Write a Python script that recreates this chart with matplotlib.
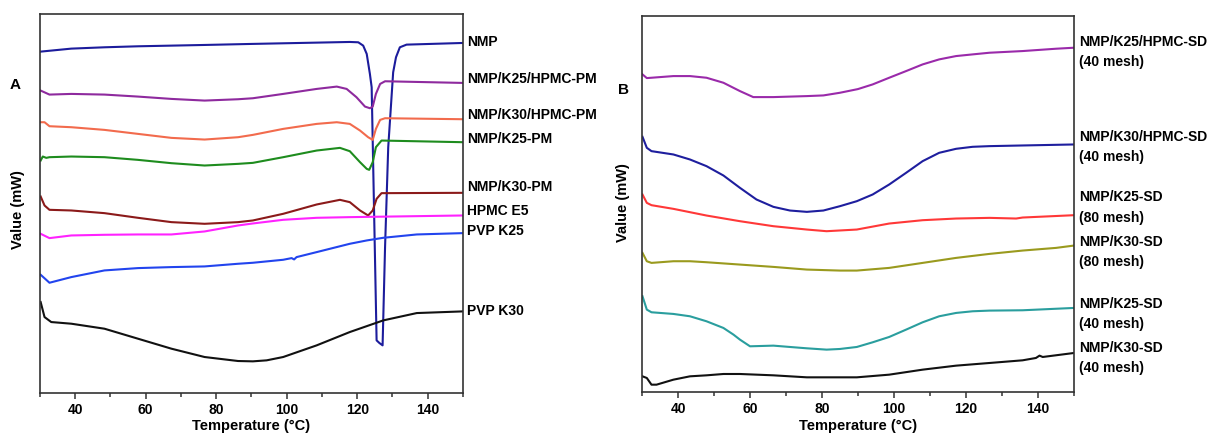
"""
DSC thermograms: (A) NMP, polymers and physical mixtures, (B) solid dispersions.
"""

import numpy as np
import matplotlib
matplotlib.use('Agg')
import matplotlib.pyplot as plt
from matplotlib.ticker import MultipleLocator

plt.rcParams['font.family'] = ['Liberation Sans', 'DejaVu Sans']
plt.rcParams['font.weight'] = 'bold'

# ---- panel A (heat flow, arbitrary mW units, curves stacked) ----
A_NMP_T = [30.2, 38.9, 48.3, 57.8, 67.3, 76.7, 89.6, 99.0, 108.5, 117.9, 120.3, 121.7, 122.7,
           123.6, 124.1, 125.5, 126.3, 127.2, 127.9, 128.8, 130.2, 131.0, 132.1, 134.0, 150]
A_NMP_V = [10.45, 10.54, 10.58, 10.61, 10.63, 10.65, 10.68, 10.70, 10.72, 10.74, 10.73, 10.63, 10.38,
           9.78, 9.38, 1.78, 1.70, 1.63, 4.58, 7.58, 9.83, 10.28, 10.58, 10.66, 10.71]

A_K25HP_T = [30.2, 32.7, 38.9, 48.3, 57.8, 67.3, 76.7, 86.2, 90.4, 99.0, 108.5, 114.2, 117.0,
             119.8, 122.2, 123.6, 124.4, 125.3, 126.5, 127.9, 150]
A_K25HP_V = [9.28, 9.16, 9.18, 9.16, 9.10, 9.03, 8.98, 9.02, 9.05, 9.18, 9.33, 9.40, 9.33,
             9.08, 8.80, 8.75, 8.80, 9.18, 9.48, 9.56, 9.51]

A_K30HP_T = [30.2, 31.3, 32.7, 38.9, 48.3, 57.8, 67.3, 76.7, 86.2, 90.4, 99.0, 108.5, 114.2,
             117.9, 120.8, 123.1, 124.4, 125.3, 126.5, 127.9, 150]
A_K30HP_V = [8.33, 8.33, 8.21, 8.18, 8.10, 7.98, 7.86, 7.81, 7.88, 7.95, 8.13, 8.28, 8.33,
             8.28, 8.08, 7.88, 7.80, 8.13, 8.40, 8.45, 8.42]

A_K25PM_T = [30.2, 30.8, 31.8, 32.7, 38.9, 48.3, 57.8, 67.3, 76.7, 86.2, 90.4, 99.0, 108.5,
             115.1, 117.9, 120.8, 122.7, 123.4, 124.4, 125.3, 126.9, 150]
A_K25PM_V = [7.18, 7.30, 7.26, 7.28, 7.30, 7.28, 7.20, 7.10, 7.03, 7.08, 7.11, 7.28, 7.48,
             7.56, 7.46, 7.13, 6.93, 6.90, 7.13, 7.58, 7.78, 7.73]

A_K30PM_T = [30.2, 31.3, 32.7, 38.9, 48.3, 57.8, 67.3, 76.7, 86.2, 90.4, 99.0, 108.5, 115.1,
             117.9, 120.8, 123.1, 124.4, 125.5, 126.9, 150]
A_K30PM_V = [6.10, 5.83, 5.70, 5.68, 5.60, 5.46, 5.33, 5.28, 5.33, 5.38, 5.58, 5.86, 6.00,
             5.93, 5.68, 5.53, 5.68, 6.03, 6.20, 6.21]

A_HPMC_T = [30.2, 32.7, 38.9, 48.3, 57.8, 67.3, 76.7, 86.2, 90.4, 99.0, 108.5, 117.9, 150]
A_HPMC_V = [4.98, 4.85, 4.93, 4.95, 4.96, 4.96, 5.05, 5.23, 5.29, 5.40, 5.46, 5.48, 5.53]

A_PVP25_T = [30.2, 32.7, 38.9, 48.3, 57.8, 67.3, 76.7, 86.2, 90.4, 99.0, 101.4, 102.1, 102.8,
             108.5, 117.9, 122.7, 127.4, 136.9, 150]
A_PVP25_V = [3.75, 3.51, 3.68, 3.88, 3.95, 3.98, 4.00, 4.08, 4.11, 4.20, 4.25, 4.21, 4.28,
             4.43, 4.68, 4.78, 4.86, 4.96, 5.00]

A_PVP30_T = [30.2, 31.3, 33.2, 38.9, 48.3, 57.8, 67.3, 76.7, 86.2, 90.4, 94.3, 99.0, 108.5,
             117.9, 127.4, 136.9, 150]
A_PVP30_V = [2.93, 2.48, 2.33, 2.28, 2.13, 1.83, 1.53, 1.28, 1.16, 1.15, 1.18, 1.28, 1.63,
             2.03, 2.38, 2.60, 2.65]

A_LABELS = ['NMP', 'NMP/K25/HPMC-PM', 'NMP/K30/HPMC-PM', 'NMP/K25-PM',
            'NMP/K30-PM', 'HPMC E5', 'PVP K25', 'PVP K30']
A_LABEL_Y = [10.75, 9.62, 8.55, 7.82, 6.38, 5.65, 5.05, 2.65]
A_COLORS = ['#1c1c9c', '#8e2a9e', '#f26b4d', '#1e8c1e', '#8b1a1a', '#ff22ff', '#2244ee', '#111111']

# ---- panel B ----
B_K25HP_T = [30.0, 31.2, 32.5, 38.6, 43.2, 47.8, 52.5, 57.1, 60.8, 66.4, 75.7, 80.3, 84.9, 89.9,
             94.0, 98.6, 103.3, 107.9, 112.5, 117.2, 121.8, 126.5, 135.7, 145.0, 150]
B_K25HP_V = [9.77, 9.66, 9.67, 9.72, 9.72, 9.67, 9.52, 9.27, 9.09, 9.09, 9.12, 9.14, 9.22, 9.33,
             9.47, 9.67, 9.87, 10.07, 10.22, 10.32, 10.37, 10.42, 10.47, 10.54, 10.57]

B_K30HP_T = [30.0, 31.2, 32.5, 38.6, 43.2, 47.8, 52.5, 57.1, 61.7, 66.4, 71.0, 75.7, 80.3, 84.9,
             89.6, 94.0, 98.6, 103.3, 107.9, 112.5, 117.2, 121.8, 126.5, 135.7, 150]
B_K30HP_V = [7.90, 7.57, 7.47, 7.37, 7.22, 7.02, 6.74, 6.37, 6.02, 5.80, 5.69, 5.65, 5.69, 5.82,
             5.97, 6.17, 6.47, 6.82, 7.17, 7.42, 7.54, 7.60, 7.62, 7.64, 7.67]

B_K25_80_T = [30.0, 31.2, 32.5, 38.6, 47.8, 57.1, 66.4, 75.7, 81.2, 89.6, 98.6, 107.9, 117.2,
              126.5, 133.9, 135.7, 150]
B_K25_80_V = [6.17, 5.92, 5.85, 5.74, 5.54, 5.37, 5.22, 5.12, 5.07, 5.12, 5.30, 5.40, 5.45,
              5.47, 5.45, 5.48, 5.55]

B_K30_80_T = [30.0, 31.2, 32.5, 38.6, 43.2, 47.8, 57.1, 66.4, 75.7, 84.9, 89.6, 98.6, 107.9,
              117.2, 126.5, 135.7, 145.0, 150]
B_K30_80_V = [4.42, 4.17, 4.12, 4.17, 4.17, 4.14, 4.07, 4.00, 3.92, 3.89, 3.89, 3.97, 4.12,
              4.27, 4.39, 4.49, 4.57, 4.64]

B_K25_40_T = [30.0, 31.2, 32.5, 38.6, 43.2, 47.8, 52.5, 55.3, 57.1, 59.9, 66.4, 71.0, 75.7, 81.2,
              84.9, 89.6, 94.0, 98.6, 103.3, 107.9, 112.5, 117.2, 121.8, 126.5, 135.7, 150]
B_K25_40_V = [3.12, 2.72, 2.64, 2.59, 2.52, 2.37, 2.17, 1.97, 1.82, 1.62, 1.64, 1.60, 1.56, 1.52,
              1.54, 1.60, 1.74, 1.90, 2.12, 2.34, 2.52, 2.62, 2.67, 2.69, 2.70, 2.77]

B_K30_40_T = [30.0, 31.2, 32.5, 33.9, 38.6, 43.2, 47.8, 52.5, 57.1, 66.4, 75.7, 84.9, 89.6,
              98.6, 107.9, 117.2, 126.5, 135.7, 139.4, 140.4, 141.3, 150]
B_K30_40_V = [0.72, 0.67, 0.47, 0.47, 0.62, 0.72, 0.75, 0.79, 0.79, 0.75, 0.69, 0.69, 0.69,
              0.77, 0.92, 1.04, 1.12, 1.20, 1.27, 1.34, 1.30, 1.42]

B_LABELS = ['NMP/K25/HPMC-SD\n(40 mesh)', 'NMP/K30/HPMC-SD\n(40 mesh)', 'NMP/K25-SD\n(80 mesh)',
            'NMP/K30-SD\n(80 mesh)', 'NMP/K25-SD\n(40 mesh)', 'NMP/K30-SD\n(40 mesh)']
B_LABEL_Y = [10.43, 7.58, 5.78, 4.45, 2.60, 1.28]
B_COLORS = ['#9a2aaa', '#1e1e9e', '#ff3838', '#9a9a1e', '#2a9e9e', '#111111']


def style_axes(ax, ylim):
    ax.set_xlim(30, 150)
    ax.set_ylim(*ylim)
    ax.xaxis.set_minor_locator(MultipleLocator(10))
    ax.set_xticks(np.arange(40, 141, 20))
    ax.set_yticks([])
    ax.tick_params(axis='x', which='major', direction='out', length=4, width=1.1,
                   labelsize=10, pad=3, color='#333333')
    ax.tick_params(axis='x', which='minor', direction='out', length=3, width=1.1, color='#333333')
    for s in ax.spines.values():
        s.set_linewidth(1.2)
        s.set_color('#333333')
    for lab in ax.get_xticklabels():
        lab.set_fontweight('bold')
    ax.set_xlabel('Temperature (°C)', fontsize=10.5, fontweight='bold', labelpad=2)


fig = plt.figure(figsize=(12.18, 4.44), dpi=100)
axA = fig.add_axes([0.0328, 0.1149, 0.3473, 0.8536])
axB = fig.add_axes([0.5275, 0.1171, 0.3543, 0.8468])

a_series = [(A_NMP_T, A_NMP_V), (A_K25HP_T, A_K25HP_V), (A_K30HP_T, A_K30HP_V),
            (A_K25PM_T, A_K25PM_V), (A_K30PM_T, A_K30PM_V), (A_HPMC_T, A_HPMC_V),
            (A_PVP25_T, A_PVP25_V), (A_PVP30_T, A_PVP30_V)]
for (t, v), c in zip(a_series, A_COLORS):
    axA.plot(t, v, color=c, lw=1.5, solid_joinstyle='round')
for lab, y in zip(A_LABELS, A_LABEL_Y):
    axA.text(1.009, y, lab, transform=axA.get_yaxis_transform(), fontsize=10,
             fontweight='bold', va='center', ha='left')
style_axes(axA, (0.2, 11.58))
axA.set_ylabel('Value (mW)', fontsize=10.5, fontweight='bold')
axA.yaxis.set_label_coords(-0.036, 0.483)

b_series = [(B_K25HP_T, B_K25HP_V), (B_K30HP_T, B_K30HP_V), (B_K25_80_T, B_K25_80_V),
            (B_K30_80_T, B_K30_80_V), (B_K25_40_T, B_K25_40_V), (B_K30_40_T, B_K30_40_V)]
for (t, v), c in zip(b_series, B_COLORS):
    axB.plot(t, v, color=c, lw=1.5, solid_joinstyle='round')
for lab, y in zip(B_LABELS, B_LABEL_Y):
    axB.text(1.012, y, lab, transform=axB.get_yaxis_transform(), fontsize=10,
             fontweight='bold', va='center', ha='left', linespacing=1.55)
style_axes(axB, (0.25, 11.52))
axB.set_ylabel('Value (mW)', fontsize=10.5, fontweight='bold')
axB.yaxis.set_label_coords(-0.029, 0.503)

fig.text(0.0123, 0.8086, 'A', fontsize=11, fontweight='bold', ha='center', va='center')
fig.text(0.512, 0.797, 'B', fontsize=11, fontweight='bold', ha='center', va='center')

fig.savefig('out.png', dpi=100)
